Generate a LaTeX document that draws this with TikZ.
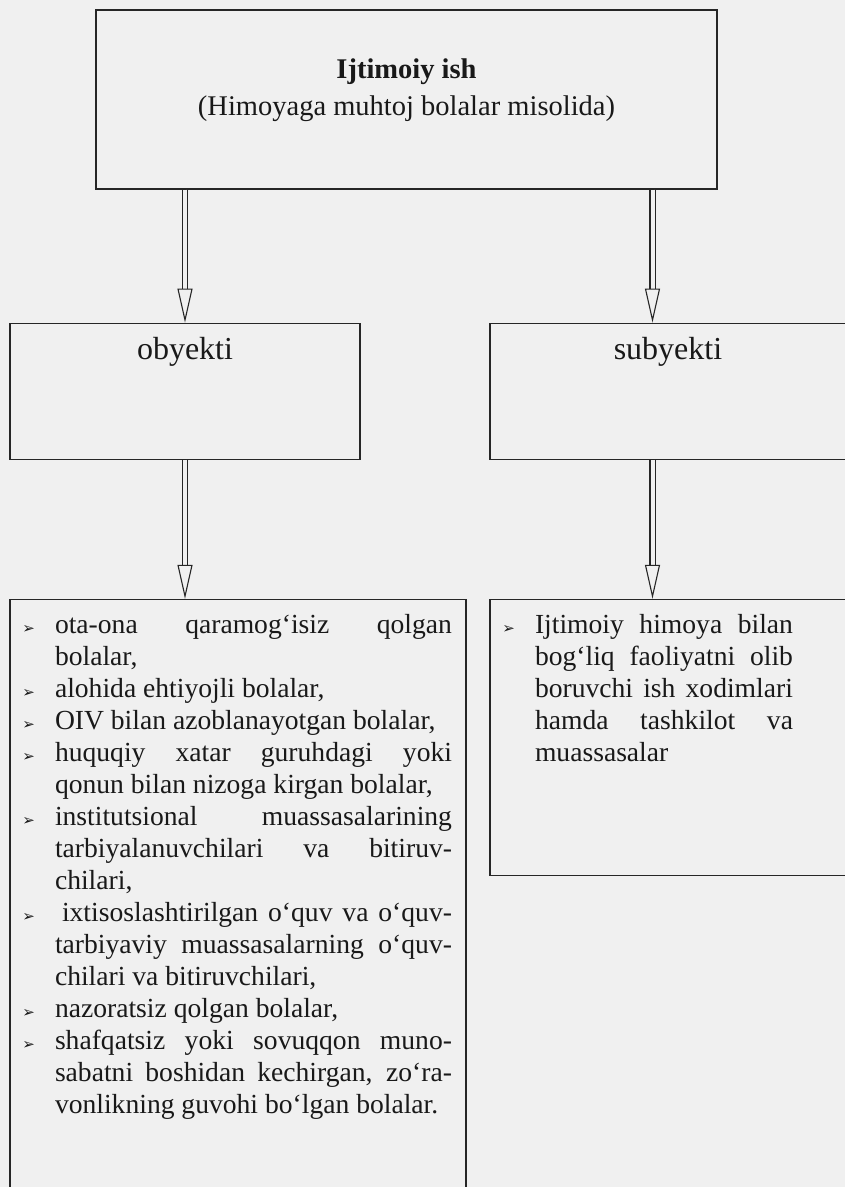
\documentclass[tikz,border=0pt]{standalone}
\usepackage{fontspec}
\setmainfont{Liberation Serif}
\newfontfamily\dejavu{DejaVu Sans}
\usetikzlibrary{arrows.meta, positioning}

\tolerance=9999
\hyphenpenalty=10000

% bullet and list used in the two lower boxes
\newcommand{\bul}{{\dejavu\fontsize{15pt}{15pt}\selectfont ➢}}
\newenvironment{blist}[1]{%
	\begin{list}{\bul}{%
		\setlength{\leftmargin}{33pt}%
		\setlength{\labelwidth}{16pt}%
		\setlength{\labelsep}{20pt}%
		\setlength{\rightmargin}{#1}%
		\setlength{\topsep}{0pt}\setlength{\partopsep}{0pt}%
		\setlength{\itemsep}{0pt}\setlength{\parsep}{0pt}}}%
	{\end{list}}

\begin{document}
\begin{tikzpicture} [x=1pt, y=-1pt,
		% define styles
		topnodestyle/.style={
			% The shape:
			rectangle,
			% The size:
			minimum width=621pt,
			minimum height=179pt,
			text depth=24pt, % lifts the two lines a little
			% The border:
			line width=1.2pt,
			draw=black!85,
			% Font
			align=center,
			text=black!90,
			font=\fontsize{28.5pt}{37pt}\selectfont
		},
		headnodestyle/.style={
			% The shape:
			rectangle,
			% The size:
			minimum width=350pt,
			inner ysep=0pt,
			text height=36pt, % text sits in the upper part
			text depth=100pt,
			% The border:
			line width=1.2pt,
			draw=black!85,
			% Font
			text=black!90,
			font=\fontsize{32pt}{38pt}\selectfont
		},
		listnodestyle/.style={
			% The shape:
			rectangle,
			% The size:
			inner xsep=12pt,
			inner ysep=0pt,
			text height=2pt,
			% The border:
			line width=1.2pt,
			draw=black!85,
			% Font
			align=justify,
			text=black!90,
			font=\fontsize{27.6pt}{32pt}\selectfont
		},
		arrow/.style={
			% double shaft
			double=black!6,
			double distance=4pt,
			line width=1.1pt,
			draw=black!85,
			-{Triangle[open, length=34pt, width=15pt]}
		}]
		% end of style definition

		% page
		\fill [black!6] (0,0) rectangle (845,1187);
		\useasboundingbox (0,0) rectangle (845,1187);

		% draw nodes
		\node (iWork) [topnodestyle] at (406.5,99.5) {\textbf{Ijtimoiy ish}\\(Himoyaga muhtoj bolalar misolida)};

		\node (iObject) [headnodestyle, below=133pt of iWork, xshift=-221.5pt] {obyekti};
		\node (iSubject) [headnodestyle, minimum width=356pt, below=133pt of iWork, xshift=261.5pt] {subyekti};

		\node (iObjList) [listnodestyle, text width=432pt, text depth=602pt,
			below=139pt of iObject.south west, anchor=north west] {%
			\begin{blist}{2pt}
				\item ota-ona qaramog‘isiz qolgan\linebreak bolalar,
				\item alohida ehtiyojli bolalar,
				\item OIV bilan azoblanayotgan bolalar,
				\item huquqiy xatar guruhdagi yoki\linebreak qonun bilan nizoga kirgan bolalar,
				\item institutsional muassasalarining\linebreak tarbiyalanuvchilari va bitiruv-\linebreak chilari,
				\item \hspace{7pt}ixtisoslashtirilgan o‘quv va o‘quv-\linebreak tarbiyaviy muassasalarning o‘quv-\linebreak chilari va bitiruvchilari,
				\item nazoratsiz qolgan bolalar,
				\item shafqatsiz yoki sovuqqon muno-\linebreak sabatni boshidan kechirgan, zo‘ra-\linebreak vonlikning guvohi bo‘lgan bolalar.
			\end{blist}};

		\node (iSubjList) [listnodestyle, text width=332pt, text depth=274pt,
			below=139pt of iSubject.south west, anchor=north west] {%
			\begin{blist}{41pt}
				\item Ijtimoiy himoya bilan\linebreak bog‘liq faoliyatni olib\linebreak boruvchi ish xodimlari\linebreak hamda tashkilot va\linebreak muassasalar
			\end{blist}};

		% connect nodes
		\draw [arrow] (iWork.south -| iObject.north) -- (iObject.north);
		\draw [arrow] ([xshift=-15.5pt]iSubject.north |- iWork.south) -- ([xshift=-15.5pt]iSubject.north);
		\draw [arrow] (iObject.south) -- (iObject.south |- iObjList.north);
		\draw [arrow] ([xshift=-15.5pt]iSubject.south) -- ([xshift=-15.5pt]iSubject.south |- iSubjList.north);
	\end{tikzpicture}
\end{document}
